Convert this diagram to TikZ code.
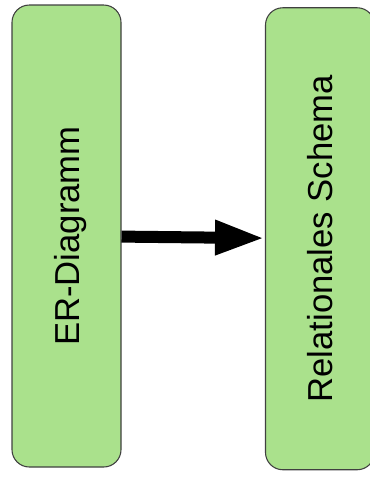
\documentclass[tikz,border=0pt]{standalone}
\usepackage{fontspec}
\setmainfont{Liberation Sans}
\usetikzlibrary{arrows.meta}
\definecolor{boxgreen}{RGB}{170,225,140}
\tikzset{
  phase/.style={draw=black!75, line width=0.8pt, fill=boxgreen, rounded corners=13pt, rotate=90,
    minimum width=346.5pt, minimum height=81.75pt, inner sep=0pt, text depth=0pt,
    font=\fontsize{26pt}{30pt}\selectfont},
}
\begin{document}
\begin{tikzpicture}[x=0.75pt, y=-0.75pt]
  \useasboundingbox (0,0) rectangle (369,483);
  % vom ER-Diagramm zum relationalen Schema
  \node[phase] (er) at (66.5,236) {ER-Diagramm};
  \node[phase] (rel) at (320,238.75) {Relationales Schema};

  \draw[-{Triangle[length=37.5pt,width=24pt]}, line width=9pt] (er) -- (rel);
\end{tikzpicture}
\end{document}
